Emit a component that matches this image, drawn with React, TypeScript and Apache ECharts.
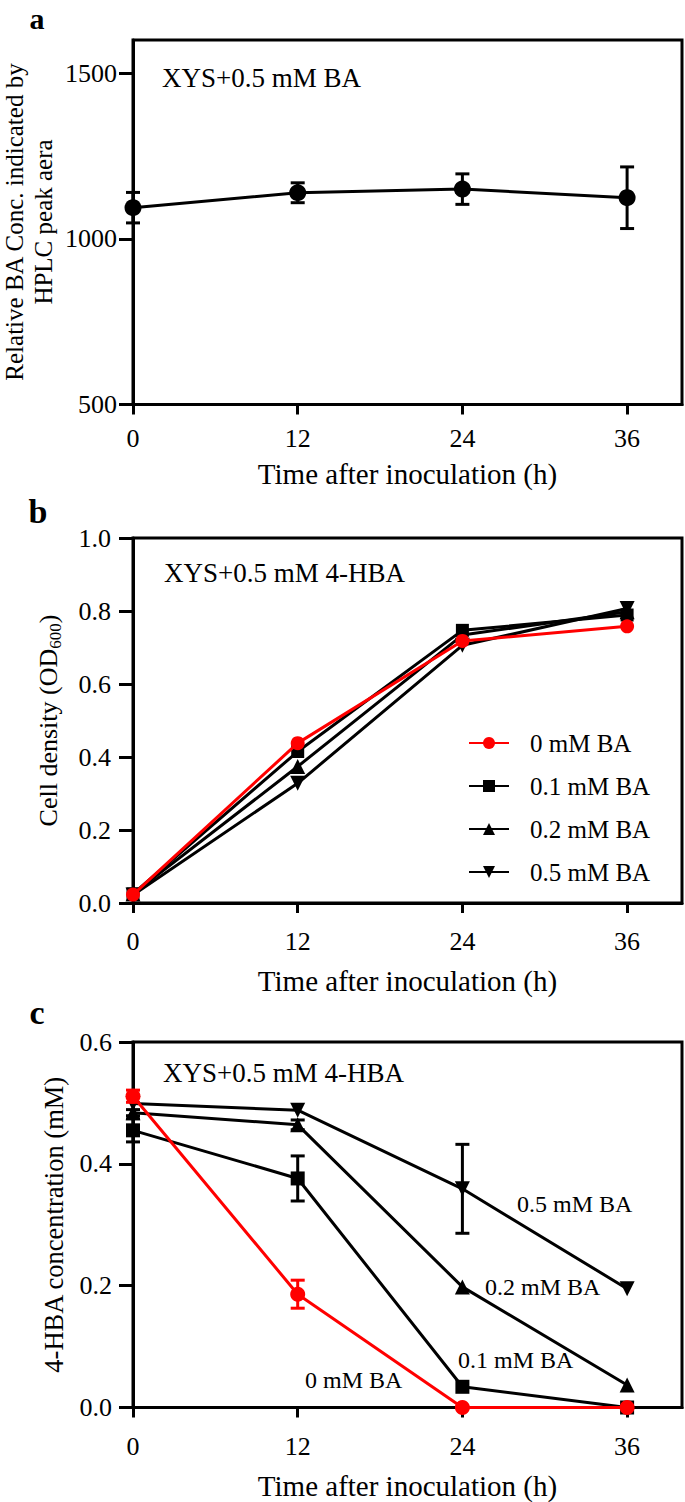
import React, { useEffect, useRef } from 'react';
import * as echarts from 'echarts';

// ---------- data ----------
const hours = [0, 12, 24, 36];
const xTicks = [0, 12, 24, 36];

// Panel a: relative BA concentration (HPLC peak area)
const baMean = [1094, 1139, 1150, 1124];
const baErr = [46, 30, 46, 93];
const aYTicks = [500, 1000, 1500];
const aYNameLines = ['Relative BA Conc. indicated by', 'HPLC peak aera'];

// Panel b: cell density OD600
const seriesNames = ['0 mM BA', '0.1 mM BA', '0.2 mM BA', '0.5 mM BA'];
const od0 = [0.023, 0.438, 0.718, 0.758];
const od01 = [0.025, 0.415, 0.747, 0.789];
const od02 = [0.025, 0.374, 0.734, 0.798];
const od05 = [0.022, 0.328, 0.706, 0.807];

// Panel c: 4-HBA concentration (mM)
const hba0 = [0.511, 0.186, 0, 0];
const hba0Err = [0.01, 0.023, 0, 0];
const hba01 = [0.455, 0.376, 0.034, 0];
const hba01Err = [0.019, 0.037, 0, 0];
const hba02 = [0.484, 0.464, 0.198, 0.037];
const hba02Err = [0.005, 0.008, 0, 0];
const hba05 = [0.499, 0.488, 0.359, 0.195];
const hba05Err = [0, 0, 0.073, 0];

const panelLetters = ['a', 'b', 'c'];
const conditionA = 'XYS+0.5 mM BA';
const conditionBC = 'XYS+0.5 mM 4-HBA';
const xName = 'Time after inoculation (h)';

// ---------- styles ----------
const FONT = '"Liberation Serif", "Times New Roman", serif';
const RED = '#ff0000';
const BLACK = '#000000';
const INV_TRI = 'path://M0,0L10,0L5,9Z';

function errRender(color: string) {
  return (params: any, api: any) => {
    const x = api.value(0);
    const lo = api.value(1);
    const hi = api.value(2);
    const pLo = api.coord([x, lo]);
    const pHi = api.coord([x, hi]);
    const hw = 7;
    const style = { stroke: color, lineWidth: 3 };
    return {
      type: 'group',
      children: [
        { type: 'line', shape: { x1: pLo[0], y1: pLo[1], x2: pHi[0], y2: pHi[1] }, style },
        { type: 'line', shape: { x1: pLo[0] - hw, y1: pLo[1], x2: pLo[0] + hw, y2: pLo[1] }, style },
        { type: 'line', shape: { x1: pHi[0] - hw, y1: pHi[1], x2: pHi[0] + hw, y2: pHi[1] }, style },
      ],
    };
  };
}

function errData(mean: number[], err: number[]) {
  return hours
    .map((h, i) => [h, mean[i] - err[i], mean[i] + err[i], err[i]])
    .filter((d) => d[3] > 0)
    .map((d) => [d[0], d[1], d[2]]);
}

function pts(vals: number[]) {
  return hours.map((h, i) => [h, vals[i]]);
}

function xAxis(gridIndex: number, labelMargin: number, nameGap: number) {
  return {
    type: 'value',
    gridIndex,
    min: 0,
    max: 40,
    interval: 12,
    axisLine: { show: true, onZero: false, lineStyle: { color: BLACK, width: 3 } },
    axisTick: { show: true, length: 10, customValues: xTicks, lineStyle: { color: BLACK, width: 3 } },
    axisLabel: {
      customValues: xTicks,
      margin: labelMargin,
      verticalAlign: 'middle',
      fontSize: 26,
      fontFamily: FONT,
      color: BLACK,
      formatter: (v: number) => String(v),
    },
    splitLine: { show: false },
    name: xName,
    nameLocation: 'middle',
    nameGap,
    nameTextStyle: { fontSize: 29, fontFamily: FONT, color: BLACK, verticalAlign: 'middle' },
  };
}

function lineSeries(name: string, data: number[], xi: number, color: string, symbol: string, size: number, z = 2) {
  return {
    type: 'line',
    name,
    xAxisIndex: xi,
    yAxisIndex: xi,
    data: pts(data),
    symbol,
    symbolSize: size,
    showSymbol: true,
    clip: false,
    z,
    lineStyle: { color, width: 3 },
    itemStyle: { color, borderWidth: 0 },
  };
}

function errSeries(mean: number[], err: number[], xi: number, color: string) {
  return {
    type: 'custom',
    xAxisIndex: xi,
    yAxisIndex: xi,
    data: errData(mean, err),
    encode: { x: 0, y: [1, 2] },
    renderItem: errRender(color),
    clip: false,
    z: 1,
    silent: true,
  };
}

function textEl(text: string, x: number, y: number, size: number, align = 'left', bold = false, rotation = 0) {
  return {
    type: 'text',
    x,
    y,
    rotation,
    silent: true,
    style: {
      text,
      fill: BLACK,
      fontSize: size,
      fontFamily: FONT,
      fontWeight: bold ? 'bold' : 'normal',
      align,
      verticalAlign: 'middle',
    },
  };
}

export default function App() {
  const ref = useRef<HTMLDivElement>(null);

  useEffect(() => {
    if (!ref.current) return;
    const chart = echarts.init(ref.current, undefined, { renderer: 'svg' });

    const gridBase = {
      show: true,
      borderColor: BLACK,
      borderWidth: 3,
      backgroundColor: 'transparent',
      containLabel: false,
      outerBoundsMode: 'none',
    };

    const option: any = {
      animation: false,
      backgroundColor: '#ffffff',
      grid: [
        { ...gridBase, left: 133, top: 40, width: 549, height: 364.5 },
        { ...gridBase, left: 133, top: 538, width: 549, height: 365 },
        { ...gridBase, left: 133, top: 1042, width: 549, height: 365.5 },
      ],
      xAxis: [xAxis(0, 33.5, 69.5), xAxis(1, 38, 78), xAxis(2, 38.5, 78.5)],
      yAxis: [
        {
          type: 'value',
          gridIndex: 0,
          min: 500,
          max: 1600,
          interval: 500,
          axisLine: { show: true, onZero: false, lineStyle: { color: BLACK, width: 3 } },
          axisTick: { show: true, length: 14, customValues: aYTicks, lineStyle: { color: BLACK, width: 3 } },
          axisLabel: {
            customValues: aYTicks,
            margin: 16,
            fontSize: 26,
            fontFamily: FONT,
            color: BLACK,
            formatter: (v: number) => String(v),
          },
          splitLine: { show: false },
        },
        {
          type: 'value',
          gridIndex: 1,
          min: 0,
          max: 1,
          interval: 0.2,
          axisLine: { show: true, onZero: false, lineStyle: { color: BLACK, width: 3 } },
          axisTick: { show: true, length: 14, lineStyle: { color: BLACK, width: 3 } },
          axisLabel: {
            margin: 22,
            fontSize: 26,
            fontFamily: FONT,
            color: BLACK,
            formatter: (v: number) => v.toFixed(1),
          },
          splitLine: { show: false },
          name: '{n|Cell density (OD}{s|600}{n|)}',
          nameLocation: 'middle',
          nameGap: 85,
          nameTextStyle: {
            fontFamily: FONT,
            color: BLACK,
            verticalAlign: 'middle',
            rich: {
              n: { fontSize: 26, lineHeight: 26, fontFamily: FONT, color: BLACK, verticalAlign: 'top' },
              s: { fontSize: 17, lineHeight: 18, fontFamily: FONT, color: BLACK, verticalAlign: 'top', padding: [12, 0, 0, 0] },
            },
          },
        },
        {
          type: 'value',
          gridIndex: 2,
          min: 0,
          max: 0.6,
          interval: 0.2,
          axisLine: { show: true, onZero: false, lineStyle: { color: BLACK, width: 3 } },
          axisTick: { show: true, length: 14, lineStyle: { color: BLACK, width: 3 } },
          axisLabel: {
            margin: 21,
            fontSize: 26,
            fontFamily: FONT,
            color: BLACK,
            formatter: (v: number) => v.toFixed(1),
          },
          splitLine: { show: false },
          name: '4-HBA concentration (mM)',
          nameLocation: 'middle',
          nameGap: 79,
          nameTextStyle: { fontSize: 26.5, fontFamily: FONT, color: BLACK, verticalAlign: 'middle' },
        },
      ],
      legend: {
        show: true,
        orient: 'vertical',
        left: 468,
        top: 730.5,
        padding: 0,
        itemWidth: 40,
        itemHeight: 15,
        itemGap: 18,
        selectedMode: false,
        data: seriesNames,
        textStyle: { fontSize: 25, lineHeight: 25, fontFamily: FONT, color: BLACK, padding: [0, 0, 0, 16] },
      },
      series: [
        // panel a
        errSeries(baMean, baErr, 0, BLACK),
        lineSeries('BA', baMean, 0, BLACK, 'circle', 17),
        // panel b
        lineSeries(seriesNames[1], od01, 1, BLACK, 'rect', 13),
        lineSeries(seriesNames[2], od02, 1, BLACK, 'triangle', 15),
        lineSeries(seriesNames[3], od05, 1, BLACK, INV_TRI, 15),
        lineSeries(seriesNames[0], od0, 1, RED, 'circle', 14, 4),
        // panel c
        errSeries(hba01, hba01Err, 2, BLACK),
        errSeries(hba02, hba02Err, 2, BLACK),
        errSeries(hba05, hba05Err, 2, BLACK),
        lineSeries('c ' + seriesNames[1], hba01, 2, BLACK, 'rect', 14),
        lineSeries('c ' + seriesNames[2], hba02, 2, BLACK, 'triangle', 15),
        lineSeries('c ' + seriesNames[3], hba05, 2, BLACK, INV_TRI, 15),
        { ...errSeries(hba0, hba0Err, 2, RED), z: 3 },
        lineSeries('c ' + seriesNames[0], hba0, 2, RED, 'circle', 15, 4),
      ],
      graphic: [
        textEl(panelLetters[0], 37, 18, 30, 'center', true),
        textEl(panelLetters[1], 38, 511, 34, 'center', true),
        textEl(panelLetters[2], 37, 1012, 34, 'center', true),
        textEl(aYNameLines[0], 14, 222, 25, 'center', false, Math.PI / 2),
        textEl(aYNameLines[1], 43, 222, 25, 'center', false, Math.PI / 2),
        textEl(conditionA, 162, 78, 27),
        textEl(conditionBC, 164, 573, 27),
        textEl(conditionBC, 163, 1073, 27),
        textEl(seriesNames[3], 517, 1204, 24),
        textEl(seriesNames[2], 485, 1287, 24),
        textEl(seriesNames[1], 458, 1360, 24),
        textEl(seriesNames[0], 305, 1380, 24),
      ],
    };

    chart.setOption(option);
    return () => {
      chart.dispose();
    };
  }, []);

  return (
    <div
      ref={ref}
      style={{ position: 'absolute', left: 0, top: 0, width: 685, height: 1502, background: '#fff' }}
    />
  );
}
